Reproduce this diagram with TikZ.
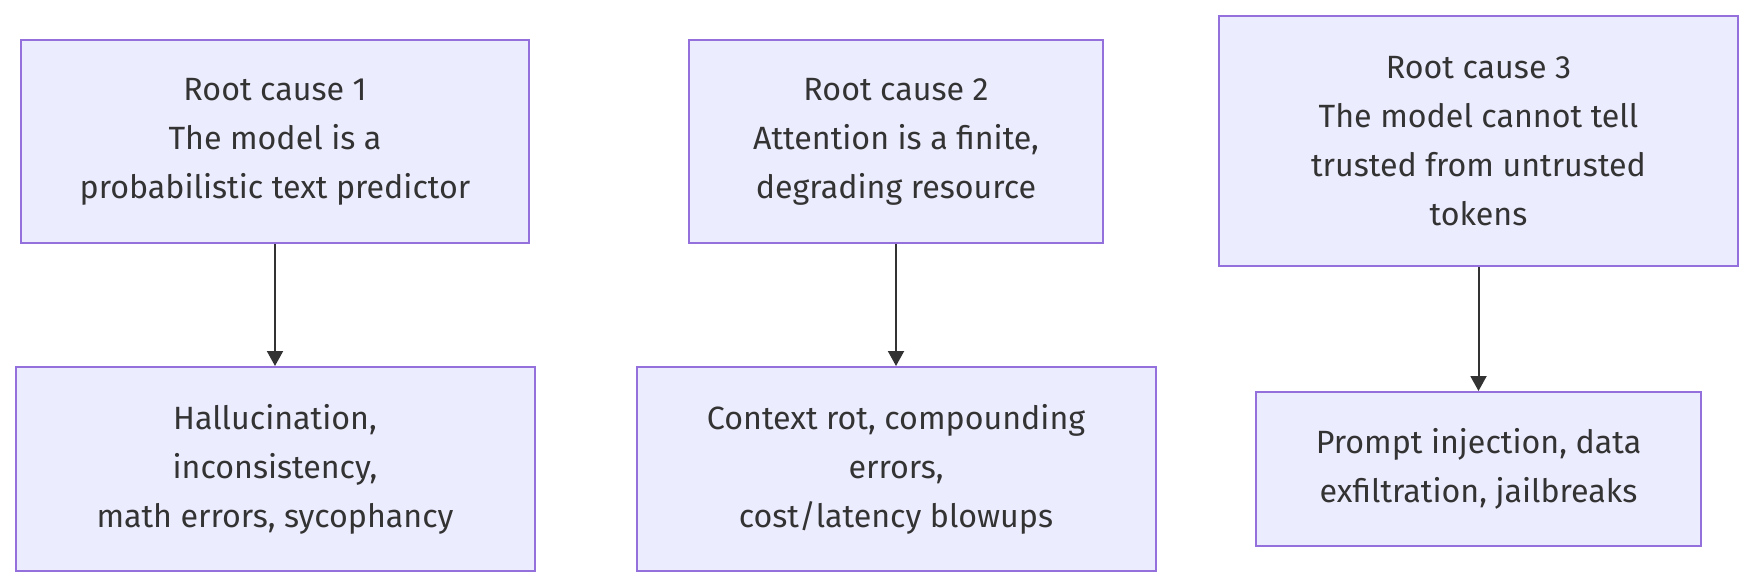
\documentclass[tikz,border=0pt]{standalone}
\usepackage{fontspec}
\setmainfont{Fira Sans}
\usetikzlibrary{arrows.meta}
\definecolor{boxfill}{HTML}{ECECFF}
\definecolor{boxline}{HTML}{9370DB}
\definecolor{ink}{HTML}{333333}
\tikzset{
  cause/.style={draw=boxline, fill=boxfill, line width=1pt, inner sep=0pt,
    align=center, text=ink, font=\fontsize{16.1}{24.5}\selectfont},
  link/.style={draw=ink, line width=1pt, -{Triangle[length=7.5pt,width=8pt]}}
}
\begin{document}
\begin{tikzpicture}[x=0.5pt,y=-0.5pt]
\useasboundingbox[fill=white] (0,0) rectangle (1755,588);
\node[cause, minimum width=254pt, minimum height=101.5pt] (c1) at (275,141.5)
  {Root cause 1\\The model is a\\probabilistic text predictor};
\node[cause, minimum width=207pt, minimum height=101.5pt] (c2) at (896,141.5)
  {Root cause 2\\Attention is a finite,\\degrading resource};
\node[cause, minimum width=259.5pt, minimum height=125pt] (c3) at (1478.5,141)
  {Root cause 3\\The model cannot tell\\trusted from untrusted\\tokens};
\node[cause, minimum width=259.5pt, minimum height=102pt] (e1) at (275,469)
  {Hallucination,\\inconsistency,\\math errors, sycophancy};
\node[cause, minimum width=259.5pt, minimum height=102pt] (e2) at (896,469)
  {Context rot, compounding\\errors,\\cost/latency blowups};
\node[cause, minimum width=222.5pt, minimum height=77pt] (e3) at (1478.5,469)
  {Prompt injection, data\\exfiltration, jailbreaks};
\draw[link] (c1) -- (e1);
\draw[link] (c2) -- (e2);
\draw[link] (c3) -- (e3);
\end{tikzpicture}
\end{document}
